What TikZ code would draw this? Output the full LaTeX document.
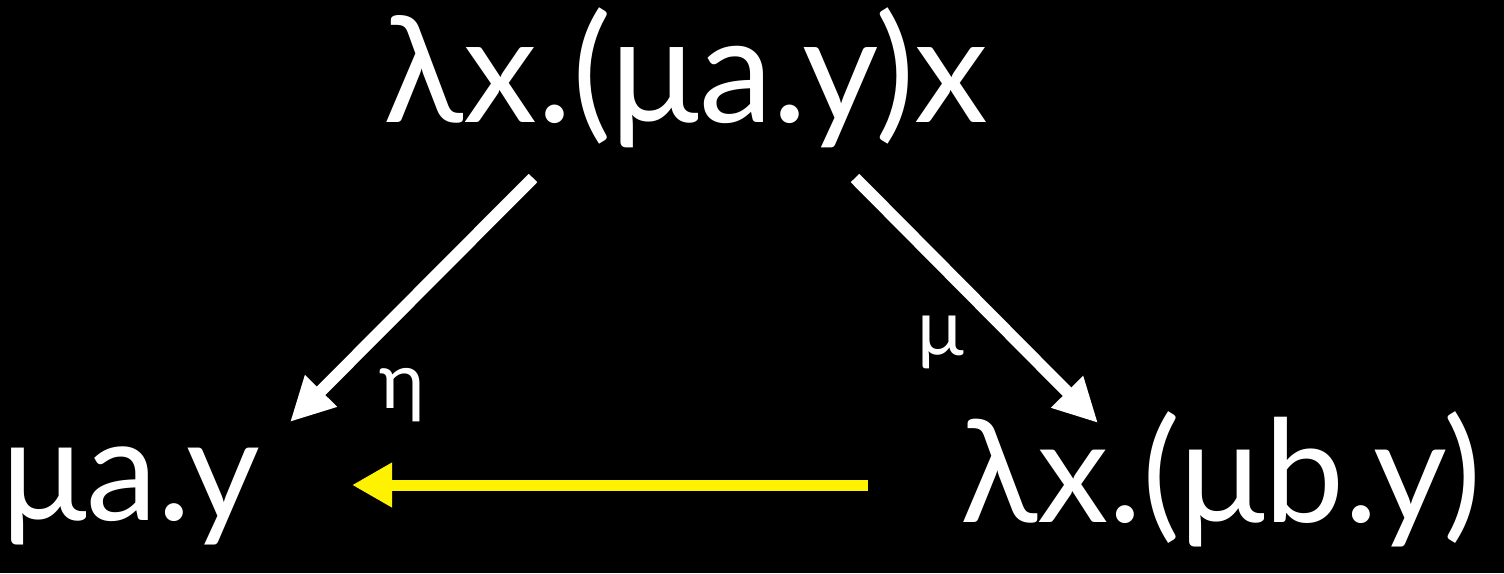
\documentclass[tikz,border=0pt]{standalone}
\usepackage{fontspec}
\setmainfont{Lato}
\usetikzlibrary{arrows.meta}
\begin{document}
\begin{tikzpicture}[x=1pt,y=-1pt,
  big/.style={inner sep=0pt,text=white,font=\fontsize{148}{148}\selectfont},
  mid/.style={inner sep=0pt,text=white,font=\fontsize{143}{143}\selectfont},
  lbl/.style={inner sep=0pt,text=white,font=\fontsize{78}{78}\selectfont},
  warr/.style={draw=white,line width=12pt,-{Triangle[length=44pt,width=42pt]}},
  yarr/.style={draw=yellow,line width=11pt,-{Triangle[length=40pt,width=42pt]}}]
\fill[black] (0,0) rectangle (1504,573);
\useasboundingbox (0,0) rectangle (1504,573);
\node[big,anchor=base] (top) at (686,122) {λx.(μa.y)x};
\node[mid,anchor=base west] (left) at (1,520) {μa.y};
\node[mid,anchor=base east] (right) at (1482,522) {λx.(μb.y)};
\node[lbl,anchor=base] (eta) at (402,408) {η};
\node[lbl,anchor=base] (mu) at (941,355) {μ};
\coordinate (tl) at (533,178);
\coordinate (tr) at (855,178);
\coordinate (lt) at (290,422);
\coordinate (rt) at (1098,423);
\coordinate (ys) at (868,485);
\coordinate (ye) at (352,485);
\draw[warr] (tl) -- (lt);
\draw[warr] (tr) -- (rt);
\draw[yarr] (ys) -- (ye);
\end{tikzpicture}
\end{document}
